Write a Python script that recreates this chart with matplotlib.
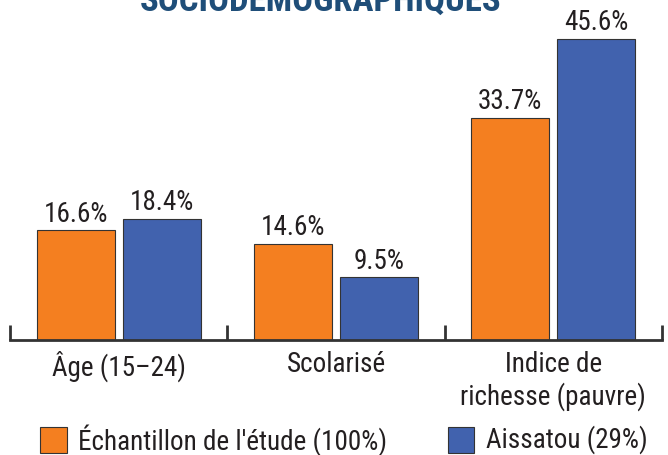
import numpy as np
import matplotlib.pyplot as plt

categories = ['Âge (15–24)', 'Scolarisé', 'Indice de\nrichesse (pauvre)']
echantillon = [16.6, 14.6, 33.7]
aissatou = [18.4, 9.5, 45.6]
series_names = ["Échantillon de l'étude (100%)", 'Aissatou (29%)']

orange = '#F47F20'
blue = '#4162AE'
txt = '#231F20'

plt.rcParams['font.family'] = ['Roboto Condensed', 'Liberation Sans Narrow', 'Roboto', 'DejaVu Sans']

fig = plt.figure(figsize=(6.68, 4.55), dpi=100)
ax = fig.add_axes([10 / 668, 115 / 455, 652 / 668, 340 / 455])

x = np.arange(len(categories))
w = 0.36
off = 0.198
b1 = ax.bar(x - off, echantillon, w, color=orange, edgecolor='#333333', lw=0.8)
b2 = ax.bar(x + off, aissatou, w, color=blue, edgecolor='#333333', lw=0.8)

for bars, vals in ((b1, echantillon), (b2, aissatou)):
    for b, v in zip(bars, vals):
        ax.annotate(f'{v}%', (b.get_x() + b.get_width() / 2, v), xytext=(0, 2),
                    textcoords='offset points', ha='center', va='bottom',
                    fontsize=19.5, color=txt)

ax.set_xlim(-0.5, 2.5)
ax.set_ylim(0, 51.5)
for s in ['top', 'right', 'left']:
    ax.spines[s].set_visible(False)
ax.spines['bottom'].set_linewidth(2)
ax.spines['bottom'].set_color('#333333')
ax.set_yticks([])
ax.set_xticks([-0.5, 0.5, 1.5, 2.5])
ax.set_xticklabels([])
ax.tick_params(axis='x', direction='in', length=11, width=2, color='#333333')
for xi, lab in zip(x, categories):
    ax.text(xi, -1.6, lab, ha='center', va='top', fontsize=19.5, color=txt,
            linespacing=1.2)

fig.text(0.48, 1.0, 'SOCIODÉMOGRAPHIQUES', ha='center', va='center',
         fontsize=25, fontweight='bold', color='#1F4E79')

# legend drawn by hand at the bottom
fig.patches.append(plt.Rectangle((40 / 668, 2 / 455), 27 / 668, 26 / 455,
                                 transform=fig.transFigure, facecolor=orange,
                                 edgecolor='#333333', lw=0.8))
fig.text(78 / 668, 15 / 455, series_names[0], ha='left', va='center',
         fontsize=19.5, color=txt)
fig.patches.append(plt.Rectangle((448 / 668, 2 / 455), 26 / 668, 26 / 455,
                                 transform=fig.transFigure, facecolor=blue,
                                 edgecolor='#333333', lw=0.8))
fig.text(486 / 668, 15 / 455, series_names[1], ha='left', va='center',
         fontsize=19.5, color=txt)

fig.savefig('out.png', dpi=100)
